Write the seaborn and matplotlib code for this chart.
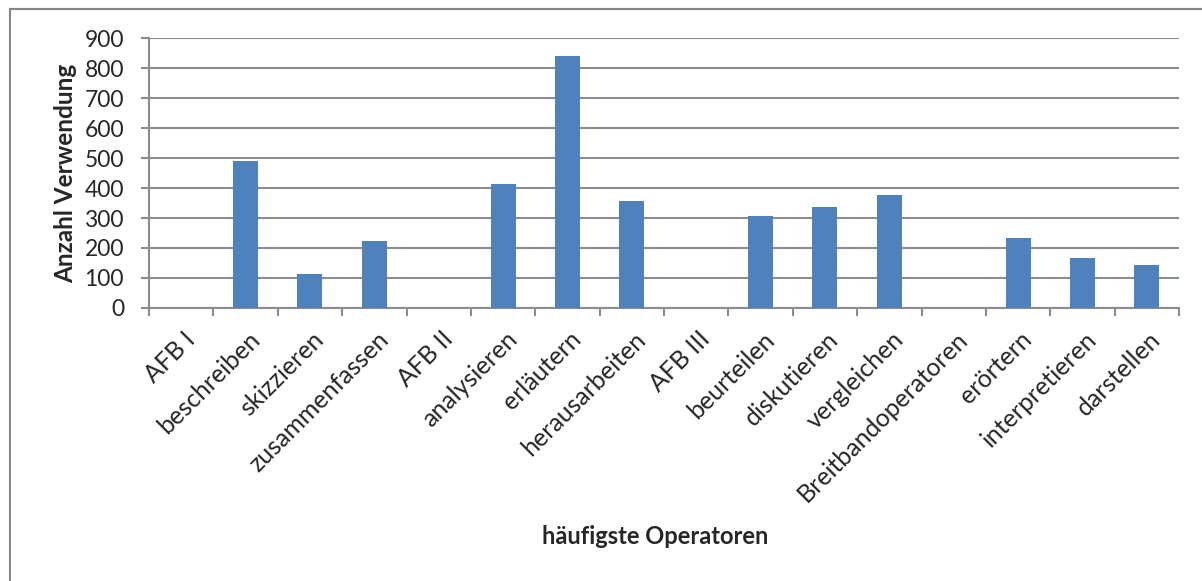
import numpy as np
import pandas as pd
import matplotlib
matplotlib.use('Agg')
import matplotlib.pyplot as plt
import matplotlib.transforms as mtransforms
import seaborn as sns
from matplotlib.patches import Rectangle

operatoren = ['AFB I', 'beschreiben', 'skizzieren', 'zusammenfassen', 'AFB II',
              'analysieren', 'erläutern', 'herausarbeiten', 'AFB III', 'beurteilen',
              'diskutieren', 'vergleichen', 'Breitbandoperatoren', 'erörtern',
              'interpretieren', 'darstellen']
anzahl = [0, 489, 112, 223, 0, 412, 841, 356, 0, 307, 337, 378, 0, 232, 168, 142]
y_ticks = [0, 100, 200, 300, 400, 500, 600, 700, 800, 900]

sns.set_style('white')
plt.rcParams['font.family'] = ['Lato', 'DejaVu Sans']

df = pd.DataFrame({'op': operatoren, 'n': anzahl})

fig = plt.figure(figsize=(12.02, 5.81), dpi=100)
ax = fig.add_axes([149/1202, 1-308/581, (1179-149)/1202, (308-38)/581])
sns.barplot(data=df, x='op', y='n', color='#4F81BD', saturation=1, width=0.39,
            linewidth=0, ax=ax, zorder=3)

ax.set_ylim(0, 900)
ax.set_xlim(-0.5, len(operatoren) - 0.5)
ax.set_yticks(y_ticks)
ax.yaxis.grid(True, color='#8c8c8c', linewidth=1.5, zorder=0)
ax.set_axisbelow(True)
for s in ['top', 'right']:
    ax.spines[s].set_visible(False)
for s in ['left', 'bottom']:
    ax.spines[s].set_color('#8c8c8c')
    ax.spines[s].set_linewidth(1.5)

ax.tick_params(axis='y', which='major', length=6, width=1.5, color='#8c8c8c',
               direction='out', labelsize=16.5, pad=12, left=True)
ax.set_xticks(np.arange(len(operatoren)))
ax.set_xticklabels(operatoren, rotation=45, ha='right', va='top',
                   rotation_mode='anchor', fontsize=18)
ax.tick_params(axis='x', which='major', length=0, pad=14)
shift = mtransforms.ScaledTranslation(2/100, 0, fig.dpi_scale_trans)
for lab in ax.get_xticklabels():
    lab.set_transform(lab.get_transform() + shift)
ax.set_xticks(np.arange(-0.5, len(operatoren)), minor=True)
ax.tick_params(axis='x', which='minor', length=6, width=1.5, color='#8c8c8c',
               direction='out', bottom=True)

ax.set_ylabel('Anzahl Verwendung', fontsize=17.5, fontweight='bold', labelpad=5)
ax.set_xlabel('')
fig.text(655/1202, 1-537/581, 'häufigste Operatoren', fontsize=17,
         fontweight='bold', ha='center', va='center')

fig.patches.append(Rectangle((10/1202, -0.1), 1.2, 1-9/581+0.1,
                             transform=fig.transFigure, fill=False,
                             edgecolor='#868686', linewidth=1.5, clip_on=False))

fig.savefig('out.png', dpi=100)
